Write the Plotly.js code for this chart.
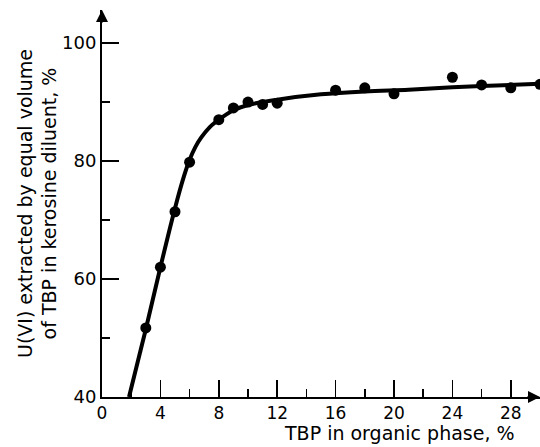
<!DOCTYPE html>
<html>
<head>
<meta charset="utf-8">
<script src="https://cdn.plot.ly/plotly-3.0.1.min.js"></script>
<style>html,body{margin:0;padding:0;background:#fff;}#chart{width:540px;height:447px;}</style>
</head>
<body>
<div id="chart"></div>
<script>
// Measured points
var tbpPoints = [3, 4, 5, 6, 8, 9, 10, 11, 12, 16, 18, 20, 24, 26, 28, 30];
var extractedPoints = [51.7, 62.0, 71.4, 79.8, 87.0, 89.0, 90.0, 89.6, 89.8, 92.0, 92.4, 91.4, 94.2, 92.9, 92.4, 93.0];
// Smooth fitted curve
var tbpCurve = [1.85, 3, 4, 5, 5.6, 6, 6.4, 6.8, 7.4, 8, 9, 10, 12, 15, 18, 21, 24, 27, 30];
var extractedCurve = [40, 51.5, 62, 72, 77.3, 80.2, 82.4, 84.0, 85.8, 87.0, 88.6, 89.5, 90.4, 91.3, 91.8, 92.1, 92.5, 92.8, 93.1];
// Tick labels
var xTicks = [0, 4, 8, 12, 16, 20, 24, 28];
var yTicks = [40, 60, 80, 100];

var fontFam = 'DejaVu Sans, sans-serif';

var traces = [
  {x: tbpCurve, y: extractedCurve, mode: 'lines', type: 'scatter',
   line: {color: '#000', width: 4, shape: 'spline', smoothing: 1},
   hoverinfo: 'skip', showlegend: false, cliponaxis: false},
  {x: tbpPoints, y: extractedPoints, mode: 'markers', type: 'scatter',
   marker: {color: '#000', size: 11}, showlegend: false, cliponaxis: false}
];

var layout = {
  width: 540, height: 447,
  margin: {l: 102, r: 0, t: 10, b: 50},
  paper_bgcolor: '#fff', plot_bgcolor: '#fff',
  font: {family: fontFam, color: '#000', size: 17},
  showlegend: false,
  xaxis: {
    range: [0, 30], showgrid: false, zeroline: false,
    showline: true, linecolor: '#000', linewidth: 2,
    tickmode: 'array', tickvals: xTicks, ticktext: xTicks.map(String),
    ticks: 'inside', ticklen: 17, tickwidth: 1.5, tickcolor: '#000',
    minor: {tickmode: 'array', tickvals: [2, 6, 10, 14, 18, 22, 26], ticks: 'inside', ticklen: 8, tickwidth: 1.5, tickcolor: '#000'},
    tickfont: {size: 17, family: fontFam}, ticklabelstandoff: 0
  },
  yaxis: {
    range: [40, 105.6], showgrid: false, zeroline: false,
    showline: true, linecolor: '#000', linewidth: 2,
    tickmode: 'array', tickvals: yTicks, ticktext: yTicks.map(String),
    ticks: 'inside', ticklen: 17, tickwidth: 1.5, tickcolor: '#000',
    minor: {tickmode: 'array', tickvals: [50, 70, 90], ticks: 'inside', ticklen: 8, tickwidth: 1.5, tickcolor: '#000'},
    tickfont: {size: 18, family: fontFam}, ticklabelstandoff: 0,
    title: {text: 'U(VI) extracted by equal volume<br>of TBP in kerosine diluent, %', font: {size: 19, family: fontFam}, standoff: 0}
  },
  annotations: [
    {xref: 'paper', yref: 'paper', x: 0.68, y: -0.093, xanchor: 'center', yanchor: 'middle',
     text: 'TBP in organic phase, %', showarrow: false, font: {size: 19, family: fontFam}},
    {x: 0, y: 105.6, xref: 'x', yref: 'y', text: '', showarrow: true, ax: 0, ay: 14,
     arrowhead: 2, arrowsize: 1.2, arrowwidth: 2, arrowcolor: '#000'},
    {x: 30, y: 40, xref: 'x', yref: 'y', text: '', showarrow: true, ax: -14, ay: 0,
     arrowhead: 2, arrowsize: 1.2, arrowwidth: 2, arrowcolor: '#000'}
  ]
};

Plotly.newPlot('chart', traces, layout, {staticPlot: true, displayModeBar: false});
</script>
</body>
</html>
